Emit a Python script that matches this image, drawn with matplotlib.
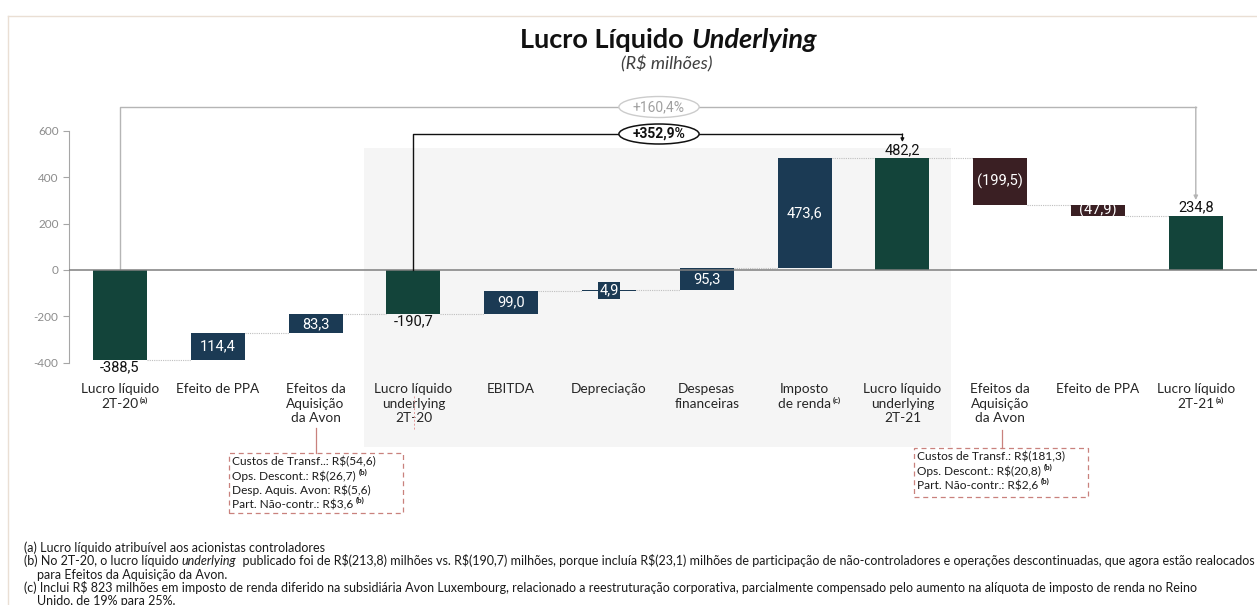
import matplotlib
matplotlib.use("Agg")
import matplotlib.pyplot as plt
from matplotlib import font_manager
from matplotlib.lines import Line2D
from matplotlib.patches import Ellipse, Rectangle

# ---- data -------------------------------------------------------------
categories = [
    ["Lucro líquido", "2T-20"],
    ["Efeito de PPA"],
    ["Efeitos da", "Aquisição", "da Avon"],
    ["Lucro líquido", "underlying", "2T-20"],
    ["EBITDA"],
    ["Depreciação"],
    ["Despesas", "financeiras"],
    ["Imposto", "de renda"],
    ["Lucro líquido", "underlying", "2T-21"],
    ["Efeitos da", "Aquisição", "da Avon"],
    ["Efeito de PPA"],
    ["Lucro líquido", "2T-21"],
]
category_notes = ["(a)", "", "", "", "", "", "", "(c)", "", "", "", "(a)"]
values = [-388.5, 114.4, 83.3, -190.7, 99.0, 4.9, 95.3, 473.6, 482.2, -199.5, -47.9, 234.8]
is_total = [True, False, False, True, False, False, False, False, True, False, False, True]
value_labels = ["-388,5", "114,4", "83,3", "-190,7", "99,0", "4,9", "95,3", "473,6",
                "482,2", "(199,5)", "(47,9)", "234,8"]
yticks = [-400, -200, 0, 200, 400, 600]

growth_total = "+160,4%"
growth_underlying = "+352,9%"

box_left = [("Custos de Transf..: R$(54,6)", ""), ("Ops. Descont.: R$(26,7)", "(b)"),
            ("Desp. Aquis. Avon: R$(5,6)", ""), ("Part. Não-contr.: R$3,6", "(b)")]
box_right = [("Custos de Transf.: R$(181,3)", ""), ("Ops. Descont.: R$(20,8)", "(b)"),
             ("Part. Não-contr.: R$2,6", "(b)")]

footnotes = [
    ["(a) Lucro líquido atribuível aos acionistas controladores"],
    ["(b) No 2T-20, o lucro líquido ", "underlying", "  publicado foi de R$(213,8) milhões vs. "
     "R$(190,7) milhões, porque incluía R$(23,1) milhões de participação de não-controladores e "
     "operações descontinuadas, que agora estão realocados"],
    ["para Efeitos da Aquisição da Avon."],
    ["(c) Inclui R$ 823 milhões em imposto de renda diferido na subsidiária Avon Luxembourg, "
     "relacionado a reestruturação corporativa, parcialmente compensado pelo aumento na alíquota "
     "de imposto de renda no Reino"],
    ["Unido, de 19% para 25%."],
]

# ---- style ------------------------------------------------------------
GREEN = "#13443a"
NAVY = "#1b3a54"
MAROON = "#3a1f23"
GRID_GRAY = "#7f7f7f"
TEXT = "#262626"

names = {f.name for f in font_manager.fontManager.ttflist}
NARROW = "Liberation Sans Narrow" if "Liberation Sans Narrow" in names else "Roboto"
plt.rcParams["font.family"] = ["Lato", "DejaVu Sans"]
plt.rcParams["text.parse_math"] = False

W, H = 1257, 605
fig = plt.figure(figsize=(W / 100, H / 100), dpi=100)

# axes placed in pixels: y-axis at x=69, zero at y=270, 0.2317 px per unit
PX_PER_UNIT = 139.0 / 600.0
X0, STEP = 120.0, 97.8
ax_top, ax_bot = 95, 455
ax = fig.add_axes([69 / W, (H - ax_bot) / H, (W - 69) / W, (ax_bot - ax_top) / H])
ax.set_xlim((69 - X0) / STEP, (W - X0) / STEP)
ax.set_ylim(-(ax_bot - 270) / PX_PER_UNIT, (270 - ax_top) / PX_PER_UNIT)


def yval(ypix):
    return (270 - ypix) / PX_PER_UNIT


def xval(xpix):
    return (xpix - X0) / STEP


def fx(xpix):
    return xpix / W


def fy(ypix):
    return 1 - ypix / H


for side in ("top", "right", "bottom"):
    ax.spines[side].set_visible(False)
ax.spines["left"].set_bounds(-400, 600)
ax.spines["left"].set_color("#a6a6a6")
ax.set_yticks(yticks)
ax.set_yticklabels([str(t) for t in yticks])
ax.tick_params(axis="y", colors="#a6a6a6", labelcolor="#8c8c8c", labelsize=8.5, length=4, width=0.8)
ax.set_xticks([])
ax.patch.set_alpha(0)

# shaded "underlying" block
ax.add_patch(Rectangle((2.5, yval(447)), 6.0, yval(148) - yval(447), fc="#f5f5f5", ec="none", zorder=0))
ax.axhline(0, color=GRID_GRAY, lw=1.1, zorder=3)

# ---- waterfall ---------------------------------------------------------
width = 0.552
level = 0.0
for i, (v, tot, lab) in enumerate(zip(values, is_total, value_labels)):
    if tot:
        bottom, color = 0.0, GREEN
        level = v
    else:
        bottom = level
        color = NAVY if v > 0 else MAROON
        level += v
    ax.bar(i, v, bottom=bottom, width=width, color=color, zorder=2)
    if tot:
        if v < 0:
            ax.text(i, v - 2, lab, ha="center", va="top", fontsize=10.5, family=NARROW, color="#111")
        else:
            ax.text(i, v + 6, lab, ha="center", va="bottom", fontsize=10.5, family=NARROW, color="#111")
    elif abs(v) < 20:
        ax.text(i, bottom + v / 2, lab, ha="center", va="center", fontsize=10.5, family=NARROW,
                color="white", zorder=4,
                bbox=dict(boxstyle="square,pad=0.12", fc=color, ec="none"))
    else:
        ax.text(i, bottom + v / 2, lab, ha="center", va="center", fontsize=10.5, family=NARROW,
                color="white", zorder=4)
    if i < len(values) - 1:
        ax.plot([i + width / 2, i + 1 - width / 2], [level, level], color="#bfbfbf",
                lw=0.8, ls=(0, (1, 1)), zorder=1)

# category labels
line_y = [389, 404, 418]
for i, (lines, note) in enumerate(zip(categories, category_notes)):
    t = None
    for k, line in enumerate(lines):
        t = ax.text(i, yval(line_y[k]), line, ha="center", va="center", fontsize=9.8, color=TEXT)
    if note:
        ax.annotate(note, xy=(1, 0.5), xycoords=t, xytext=(1, 0), textcoords="offset points",
                    ha="left", va="bottom", fontsize=5.8, fontweight="bold", color=TEXT)

# ---- growth brackets ---------------------------------------------------
gray_y, black_y = yval(107), yval(134)
ax.plot([0, 0, 11], [0, gray_y, gray_y], color="#b5b5b5", lw=1.0, zorder=1, clip_on=False)
ax.annotate("", xy=(11, yval(200)), xytext=(11, gray_y),
            arrowprops=dict(arrowstyle="-|>", color="#b5b5b5", lw=1.0, mutation_scale=6,
                            shrinkA=0, shrinkB=0))
ax.plot([3, 3, 8], [0, black_y, black_y], color="#111", lw=1.0, zorder=3)
ax.annotate("", xy=(8, yval(142)), xytext=(8, black_y),
            arrowprops=dict(arrowstyle="-|>", color="#111", lw=0.9, mutation_scale=5,
                            shrinkA=0, shrinkB=0), zorder=3)
cx = xval(659)
ax.add_patch(Ellipse((cx, gray_y), 0.82, 21 / PX_PER_UNIT, fc="white", ec="#cccccc", lw=1.0,
                     zorder=4, clip_on=False))
ax.text(cx, gray_y, growth_total, ha="center", va="center", fontsize=10, family=NARROW,
        color="#a0a0a0", zorder=5)
ax.add_patch(Ellipse((cx, black_y), 0.82, 20 / PX_PER_UNIT, fc="white", ec="#111", lw=1.1, zorder=4))
ax.text(cx, black_y, growth_underlying, ha="center", va="center", fontsize=10, family=NARROW,
        fontweight="bold", color="#111", zorder=5)

# ---- title --------------------------------------------------------------
t1 = fig.text(fx(520), fy(40), "Lucro Líquido", fontsize=19.5, fontweight="bold", va="center",
              color="#111")
ax.annotate("Underlying", xy=(1, 0), xycoords=t1, xytext=(5.5, 0), textcoords="offset points",
            ha="left", va="bottom", fontsize=19.5, fontweight="bold", style="italic", color="#111")
fig.text(fx(667), fy(64), "(R$ milhões)", fontsize=13, style="italic", ha="center", va="center",
         color="#404040")

# slide frame
fig.add_artist(Line2D([fx(8), 1], [fy(16), fy(16)], color="#eadfd4", lw=1.0))
fig.add_artist(Line2D([fx(8), fx(8)], [fy(16), 0], color="#eadfd4", lw=1.0))

# ---- breakdown boxes -----------------------------------------------------
RED = "#c9817d"


def breakdown(rows, left, top, right, bottom, tick_x, tick_top):
    fig.add_artist(Rectangle((fx(left), fy(bottom)), (right - left) / W, (bottom - top) / H,
                             transform=fig.transFigure, fill=False, ec=RED, lw=0.9,
                             ls=(0, (4, 3))))
    fig.add_artist(Line2D([fx(tick_x)] * 2, [fy(tick_top), fy(top)], color=RED, lw=0.9))
    for k, (txt, note) in enumerate(rows):
        t = fig.text(fx(left + 3), fy(top + 9 + 14.3 * k), txt, fontsize=8.6, va="center",
                     color="#1a1a1a")
        if note:
            ax.annotate(note, xy=(1, 0.55), xycoords=t, xytext=(2, 0), textcoords="offset points",
                        ha="left", va="bottom", fontsize=5.8, fontweight="bold", color="#1a1a1a")


breakdown(box_left, 229, 453, 403, 513, 316, 428)
breakdown(box_right, 914, 448, 1088, 497, 1002, 430)

# faint red marker through the 2T-20 underlying label
fig.add_artist(Line2D([fx(414)] * 2, [fy(396), fy(430)], color="#e39a9a", lw=0.7, ls=(0, (2, 2))))

# ---- footnotes -------------------------------------------------------------
foot_y = [548, 561, 575, 588, 601]
foot_x = [24, 24, 37, 24, 37]
for parts, yp, xp in zip(footnotes, foot_y, foot_x):
    t = fig.text(fx(xp), fy(yp), parts[0], fontsize=9, va="center", color="#1a1a1a")
    for k, part in enumerate(parts[1:]):
        t = ax.annotate(part, xy=(1, 0), xycoords=t, ha="left", va="bottom", fontsize=9,
                        style="italic" if k == 0 else "normal", color="#1a1a1a",
                        annotation_clip=False)

fig.savefig("out.png", dpi=100)
